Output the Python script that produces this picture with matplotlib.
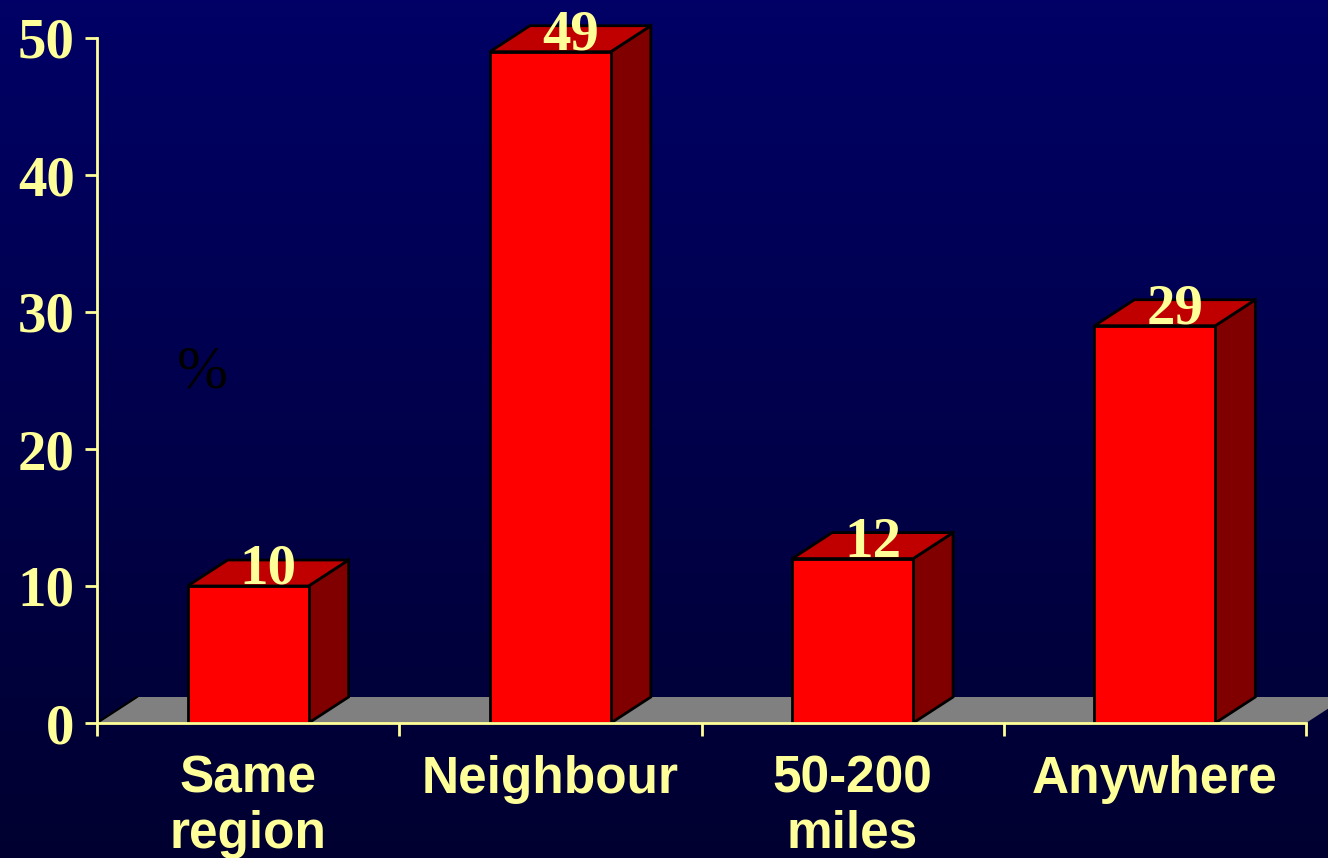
import matplotlib
matplotlib.use("Agg")
import matplotlib.pyplot as plt
import numpy as np
from matplotlib.patches import Polygon

categories = ["Same\nregion", "Neighbour", "50-200\nmiles", "Anywhere"]
values = [10, 49, 12, 29]
yticks = [0, 10, 20, 30, 40, 50]

W, H = 1328, 858
fig = plt.figure(figsize=(W / 100, H / 100), dpi=100)

# background gradient
bg = fig.add_axes([0, 0, 1, 1], zorder=-10)
bg.set_axis_off()
grad = np.linspace(0, 1, 256).reshape(-1, 1)
top = np.array([0, 0, 0x66]) / 255
bot = np.array([0, 0, 0x30]) / 255
img = top[None, None, :] * (1 - grad[:, :, None]) + bot[None, None, :] * grad[:, :, None]
bg.imshow(img, aspect="auto", extent=[0, 1, 0, 1])
bg.set_xlim(0, 1)
bg.set_ylim(0, 1)

x0, x1 = 97, 1306
y0, y1 = 723, 38
ax = fig.add_axes([x0 / W, (H - y0) / H, (x1 - x0) / W, (y0 - y1) / H])
ax.patch.set_alpha(0)
ax.set_xlim(0, len(categories))
ax.set_ylim(0, 50)

yellow = "#FFFF99"
dx = 40 / ((x1 - x0) / len(categories))
dy = 26 / ((y0 - y1) / 50)
bw = 0.40

# floor
floor = Polygon([(0, 0), (len(categories), 0), (len(categories) + dx, dy), (dx, dy)],
                closed=True, facecolor="#808080", edgecolor="none", clip_on=False, zorder=1)
ax.add_patch(floor)
ax.plot([0, dx], [0, dy], color="black", lw=1.5, clip_on=False, zorder=1.5)

for i, v in enumerate(values):
    c = i + 0.5
    l, r = c - bw / 2, c + bw / 2
    front = Polygon([(l, 0), (r, 0), (r, v), (l, v)], closed=True,
                    facecolor="#FF0000", edgecolor="black", lw=2, clip_on=False, zorder=3)
    side = Polygon([(r, 0), (r + dx, dy), (r + dx, v + dy), (r, v)], closed=True,
                   facecolor="#800000", edgecolor="black", lw=2, clip_on=False, zorder=2)
    topf = Polygon([(l, v), (r, v), (r + dx, v + dy), (l + dx, v + dy)], closed=True,
                   facecolor="#C00000", edgecolor="black", lw=2, clip_on=False, zorder=2)
    for p in (side, topf, front):
        ax.add_patch(p)
    ax.text(c + dx / 2, v + 0.15, str(v), ha="center", va="baseline",
            fontsize=41, fontweight="bold", family="Liberation Serif",
            color=yellow, zorder=5, clip_on=False)

# spines
for s in ("top", "right"):
    ax.spines[s].set_visible(False)
for s in ("left", "bottom"):
    ax.spines[s].set_color(yellow)
    ax.spines[s].set_linewidth(2)
    ax.spines[s].set_zorder(6)

ax.set_yticks(yticks)
ax.set_yticklabels([str(t) for t in yticks], fontsize=41, fontweight="bold",
                   family="Liberation Serif", color=yellow)
ax.tick_params(axis="y", length=9, width=2, color=yellow, pad=7, direction="out")

ax.set_xticks(np.arange(len(categories) + 1))
ax.set_xticklabels([""] * (len(categories) + 1))
ax.tick_params(axis="x", length=9, width=2, color=yellow, direction="out")
ax.set_xticks(np.arange(len(categories)) + 0.5, minor=True)
ax.set_xticklabels(categories, minor=True, fontsize=37, fontweight="bold",
                   family="Liberation Sans", color=yellow, linespacing=1.15)
ax.tick_params(axis="x", which="minor", length=0, pad=23)

ax.text(0.35, 25.6, "%", ha="center", va="center", fontsize=44,
        family="Liberation Serif", color="black", zorder=5)

fig.savefig("out.png", dpi=100)
